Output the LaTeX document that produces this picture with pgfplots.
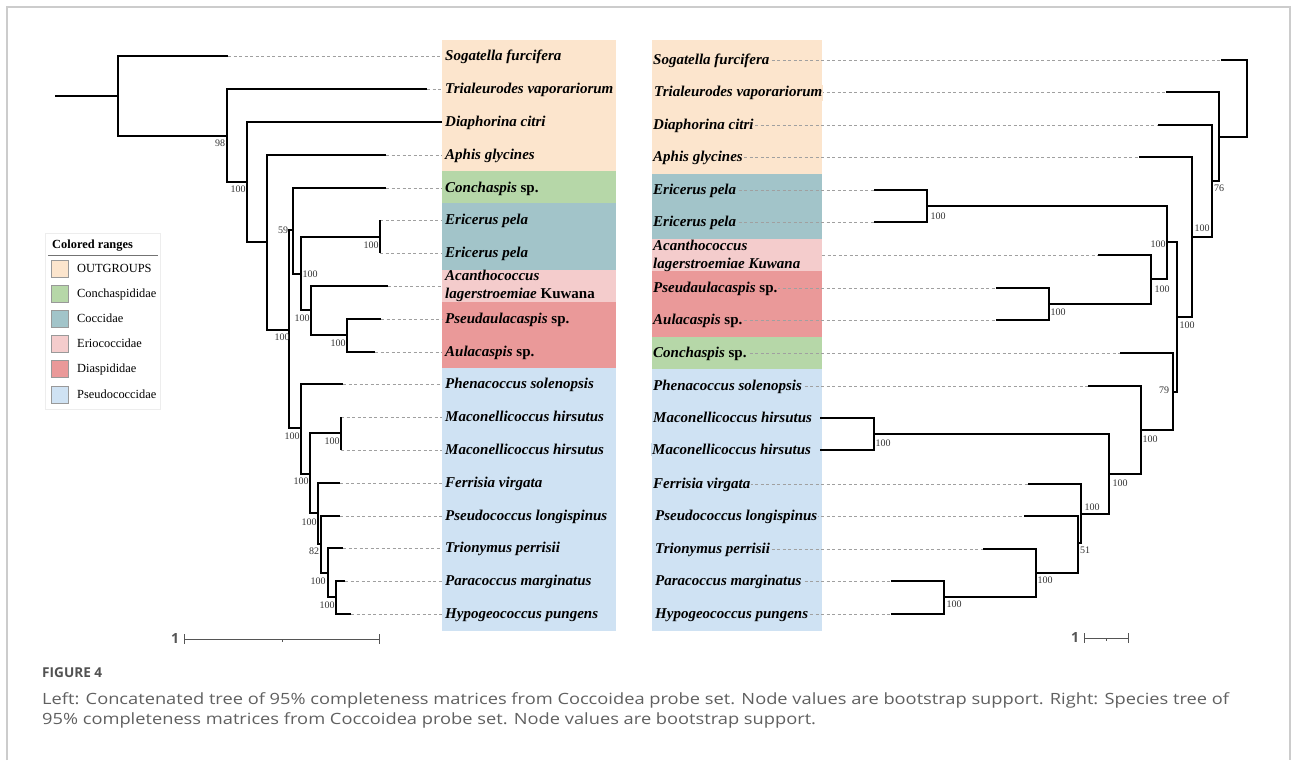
\documentclass[border=0pt]{standalone}
\usepackage{fontspec}
\setmainfont{Liberation Serif}
\newfontfamily\capfont{Open Sans}
\usepackage{graphicx}
\usepackage{pgfplots}
\pgfplotsset{compat=1.18}
\definecolor{cOut}{HTML}{FCE5CD}
\definecolor{cCon}{HTML}{B6D7A8}
\definecolor{cCoc}{HTML}{A2C4C9}
\definecolor{cEri}{HTML}{F4CCCC}
\definecolor{cDia}{HTML}{EA9999}
\definecolor{cPse}{HTML}{CFE2F3}
\definecolor{dashc}{HTML}{A0A0A0}
\definecolor{framec}{HTML}{CCCCCC}
\definecolor{capc}{HTML}{606060}
\definecolor{bsc}{HTML}{333333}
\definecolor{scalec}{HTML}{555555}
\pgfplotsset{
  br/.style={black, line width=2pt, line join=miter, no markers},
  dl/.style={dashc, line width=0.8pt, dash pattern=on 3pt off 2.5pt, no markers},
  box/.style={draw=none, no markers},
}
\tikzset{
  bs/.style={font=\fontsize{10}{12}\selectfont, text=bsc, inner sep=0pt, anchor=center},
  lab/.style={font=\fontsize{15}{18}\selectfont, anchor=base west, inner xsep=1pt, inner ysep=1pt},
  leg/.style={font=\fontsize{12.4}{14}\selectfont, anchor=base west, inner sep=0pt},
}
\newcommand{\spn}[1]{\textbf{\textit{#1}}}
\begin{document}
\begin{tikzpicture}
\begin{axis}[x=1pt, y=1pt, xmin=0, xmax=1293, ymin=0, ymax=755, y dir=reverse, hide axis, clip=false]
% bounding
\addplot[draw=none, no markers] coordinates {(0,0) (1293,755)};
% frame
\addplot[framec, line width=1.5pt, no markers] coordinates {(7,760) (7,7) (1290,7) (1290,760)};
% ---------- colored ranges left
\addplot[box, fill=cOut] coordinates {(442,40) (616,40) (616,171) (442,171)};
\addplot[box, fill=cCon] coordinates {(442,171) (616,171) (616,203) (442,203)};
\addplot[box, fill=cCoc] coordinates {(442,203) (616,203) (616,270) (442,270)};
\addplot[box, fill=cEri] coordinates {(442,270) (616,270) (616,302) (442,302)};
\addplot[box, fill=cDia] coordinates {(442,302) (616,302) (616,368) (442,368)};
\addplot[box, fill=cPse] coordinates {(442,368) (616,368) (616,631) (442,631)};
% ---------- colored ranges right
\addplot[box, fill=cOut] coordinates {(652,40) (822,40) (822,174) (652,174)};
\addplot[box, fill=cCoc] coordinates {(652,174) (822,174) (822,239) (652,239)};
\addplot[box, fill=cEri] coordinates {(652,239) (822,239) (822,271) (652,271)};
\addplot[box, fill=cDia] coordinates {(652,271) (822,271) (822,337) (652,337)};
\addplot[box, fill=cCon] coordinates {(652,337) (822,337) (822,369) (652,369)};
\addplot[box, fill=cPse] coordinates {(652,369) (822,369) (822,631) (652,631)};
% ---------- left dashed
\addplot[dl] coordinates {(228,56) (442,56)};
\addplot[dl] coordinates {(427,89) (442,89)};
\addplot[dl] coordinates {(386,155) (442,155)};
\addplot[dl] coordinates {(386,188) (442,188)};
\addplot[dl] coordinates {(380,220) (442,220)};
\addplot[dl] coordinates {(380,253) (442,253)};
\addplot[dl] coordinates {(388,286) (442,286)};
\addplot[dl] coordinates {(381,319) (442,319)};
\addplot[dl] coordinates {(375,352) (442,352)};
\addplot[dl] coordinates {(343,384) (442,384)};
\addplot[dl] coordinates {(341,417) (442,417)};
\addplot[dl] coordinates {(341,450) (442,450)};
\addplot[dl] coordinates {(340,483) (442,483)};
\addplot[dl] coordinates {(340,516) (442,516)};
\addplot[dl] coordinates {(343,548) (442,548)};
\addplot[dl] coordinates {(345,581) (442,581)};
\addplot[dl] coordinates {(351,614) (442,614)};
% ---------- right dashed
\addplot[dl] coordinates {(700,60) (1221,60)};
\addplot[dl] coordinates {(700,92) (1166,92)};
\addplot[dl] coordinates {(700,125) (1158,125)};
\addplot[dl] coordinates {(700,157) (1139,157)};
\addplot[dl] coordinates {(700,190) (874,190)};
\addplot[dl] coordinates {(700,222) (874,222)};
\addplot[dl] coordinates {(822,255) (1098,255)};
\addplot[dl] coordinates {(700,288) (996,288)};
\addplot[dl] coordinates {(700,320) (996,320)};
\addplot[dl] coordinates {(700,353) (1120,353)};
\addplot[dl] coordinates {(700,386) (1088,386)};
\addplot[dl] coordinates {(700,484) (1028,484)};
\addplot[dl] coordinates {(700,516) (1024,516)};
\addplot[dl] coordinates {(700,549) (983,549)};
\addplot[dl] coordinates {(700,581) (891,581)};
\addplot[dl] coordinates {(700,614) (891,614)};
% ---------- left tree
\addplot[br] coordinates {(55,96) (118,96)};
\addplot[br] coordinates {(228,56) (118,56) (118,136) (227,136)};
\addplot[br] coordinates {(427,89) (227,89) (227,182) (247,182)};
\addplot[br] coordinates {(442,122) (247,122) (247,242) (267,242)};
\addplot[br] coordinates {(386,155) (267,155) (267,330) (289,330)};
\addplot[br] coordinates {(293,230) (289,230) (289,428) (301,428)};
\addplot[br] coordinates {(386,188) (293,188) (293,274) (301,274)};
\addplot[br] coordinates {(380,237) (301,237) (301,310) (311,310)};
\addplot[br] coordinates {(380,220) (380,253)};
\addplot[br] coordinates {(388,286) (311,286) (311,335) (347,335)};
\addplot[br] coordinates {(381,319) (347,319) (347,352) (375,352)};
\addplot[br] coordinates {(343,384) (301,384) (301,474) (310,474)};
\addplot[br] coordinates {(341,433) (310,433) (310,513) (318,513)};
\addplot[br] coordinates {(341,417) (341,450)};
\addplot[br] coordinates {(340,483) (318,483) (318,544) (321,544)};
\addplot[br] coordinates {(340,516) (321,516) (321,573) (328,573)};
\addplot[br] coordinates {(343,548) (328,548) (328,597) (336,597)};
\addplot[br] coordinates {(345,581) (336,581) (336,614) (351,614)};
% ---------- right tree
\addplot[br] coordinates {(1221,60) (1247,60) (1247,137) (1219,137)};
\addplot[br] coordinates {(1166,92) (1219,92) (1219,181) (1212,181)};
\addplot[br] coordinates {(1158,125) (1212,125) (1212,237) (1192,237)};
\addplot[br] coordinates {(1139,157) (1192,157) (1192,317) (1177,317)};
\addplot[br] coordinates {(1167,242) (1177,242) (1177,392) (1173,392)};
\addplot[br] coordinates {(927,206) (1167,206) (1167,279) (1151,279)};
\addplot[br] coordinates {(874,190) (927,190) (927,222) (874,222)};
\addplot[br] coordinates {(1098,255) (1151,255) (1151,304) (1049,304)};
\addplot[br] coordinates {(996,288) (1049,288) (1049,320) (996,320)};
\addplot[br] coordinates {(1120,353) (1173,353) (1173,430) (1141,430)};
\addplot[br] coordinates {(1088,386) (1141,386) (1141,474) (1109,474)};
\addplot[br] coordinates {(874,434) (1109,434) (1109,514) (1081,514)};
\addplot[br] coordinates {(820,418) (874,418) (874,450) (820,450)};
\addplot[br] coordinates {(1028,484) (1081,484) (1081,543) (1078,543)};
\addplot[br] coordinates {(1024,516) (1078,516) (1078,573) (1036,573)};
\addplot[br] coordinates {(983,549) (1036,549) (1036,597) (944,597)};
\addplot[br] coordinates {(891,581) (944,581) (944,614) (891,614)};
% ---------- scale bars
\addplot[scalec, line width=1pt, no markers] coordinates {(184,639) (379,639)};
\addplot[scalec, line width=1pt, no markers] coordinates {(184,634) (184,644)};
\addplot[scalec, line width=1pt, no markers] coordinates {(379,634) (379,644)};
\addplot[scalec, line width=0.8pt, no markers] coordinates {(282,639) (282,642)};
\addplot[scalec, line width=1pt, no markers] coordinates {(1084,638) (1128,638)};
\addplot[scalec, line width=1pt, no markers] coordinates {(1084,633) (1084,643)};
\addplot[scalec, line width=1pt, no markers] coordinates {(1128,633) (1128,643)};
\addplot[scalec, line width=0.8pt, no markers] coordinates {(1106,638) (1106,641)};
% ---------- legend
\addplot[draw=black!7, fill=white, no markers, line width=0.8pt] coordinates {(45,233) (160,233) (160,409) (45,409) (45,233)};
\addplot[black!55, line width=0.8pt, no markers] coordinates {(48,255) (158,255)};
\addplot[draw=black!40, fill=cOut, no markers, line width=0.6pt] coordinates {(51,260) (68,260) (68,277) (51,277) (51,260)};
\addplot[draw=black!40, fill=cCon, no markers, line width=0.6pt] coordinates {(51,285) (68,285) (68,302) (51,302) (51,285)};
\addplot[draw=black!40, fill=cCoc, no markers, line width=0.6pt] coordinates {(51,310) (68,310) (68,327) (51,327) (51,310)};
\addplot[draw=black!40, fill=cEri, no markers, line width=0.6pt] coordinates {(51,335) (68,335) (68,352) (51,352) (51,335)};
\addplot[draw=black!40, fill=cDia, no markers, line width=0.6pt] coordinates {(51,360) (68,360) (68,377) (51,377) (51,360)};
\addplot[draw=black!40, fill=cPse, no markers, line width=0.6pt] coordinates {(51,386) (68,386) (68,403) (51,403) (51,386)};
\node[leg, font=\bfseries\fontsize{12.4}{14}\selectfont] at (axis cs:52,248) {Colored ranges};
\node[leg] at (axis cs:77,272) {OUTGROUPS};
\node[leg] at (axis cs:77,297) {Conchaspididae};
\node[leg] at (axis cs:77,322) {Coccidae};
\node[leg] at (axis cs:77,347) {Eriococcidae};
\node[leg] at (axis cs:77,372) {Diaspididae};
\node[leg] at (axis cs:77,398) {Pseudococcidae};
% ---------- left labels
\node[lab] at (axis cs:444,60.5) {\spn{Sogatella furcifera}};
\node[lab] at (axis cs:444,93.5) {\spn{Trialeurodes vaporariorum}};
\node[lab] at (axis cs:444,126.5) {\spn{Diaphorina citri}};
\node[lab] at (axis cs:444,159.5) {\spn{Aphis glycines}};
\node[lab] at (axis cs:444,192.5) {\spn{Conchaspis} \textbf{sp.}};
\node[lab] at (axis cs:444,224.5) {\spn{Ericerus pela}};
\node[lab] at (axis cs:444,257.5) {\spn{Ericerus pela}};
\node[lab] at (axis cs:444,280.5) {\spn{Acanthococcus}};
\node[lab] at (axis cs:444,298.5) {\spn{lagerstroemiae} \textbf{Kuwana}};
\node[lab] at (axis cs:444,323.5) {\spn{Pseudaulacaspis} \textbf{sp.}};
\node[lab] at (axis cs:444,356.5) {\spn{Aulacaspis} \textbf{sp.}};
\node[lab] at (axis cs:444,388.5) {\spn{Phenacoccus solenopsis}};
\node[lab] at (axis cs:444,421.5) {\spn{Maconellicoccus hirsutus}};
\node[lab] at (axis cs:444,454.5) {\spn{Maconellicoccus hirsutus}};
\node[lab] at (axis cs:444,487.5) {\spn{Ferrisia virgata}};
\node[lab] at (axis cs:444,520.5) {\spn{Pseudococcus longispinus}};
\node[lab] at (axis cs:444,552.5) {\spn{Trionymus perrisii}};
\node[lab] at (axis cs:444,585.5) {\spn{Paracoccus marginatus}};
\node[lab] at (axis cs:444,618.5) {\spn{Hypogeococcus pungens}};
% ---------- right labels
\node[lab, fill=cOut] at (axis cs:652,64.5) {\spn{Sogatella furcifera}};
\node[lab, fill=cOut] at (axis cs:653,96.5) {\spn{Trialeurodes vaporariorum}};
\node[lab, fill=cOut] at (axis cs:652,129.5) {\spn{Diaphorina citri}};
\node[lab, fill=cOut] at (axis cs:652,161.5) {\spn{Aphis glycines}};
\node[lab, fill=cCoc] at (axis cs:652,194.5) {\spn{Ericerus pela}};
\node[lab, fill=cCoc] at (axis cs:652,226.5) {\spn{Ericerus pela}};
\node[lab, inner sep=0pt] at (axis cs:653,250.5) {\spn{Acanthococcus}};
\node[lab, inner sep=0pt] at (axis cs:653,268.5) {\spn{lagerstroemiae Kuwana}};
\node[lab, fill=cDia] at (axis cs:652,292.5) {\spn{Pseudaulacaspis} \textbf{sp.}};
\node[lab, fill=cDia] at (axis cs:652,324.5) {\spn{Aulacaspis} \textbf{sp.}};
\node[lab, fill=cCon] at (axis cs:652,357.5) {\spn{Conchaspis} \textbf{sp.}};
\node[lab, fill=cPse] at (axis cs:652,390.5) {\spn{Phenacoccus solenopsis}};
\node[lab, fill=cPse] at (axis cs:652,422.5) {\spn{Maconellicoccus hirsutus}};
\node[lab, fill=cPse] at (axis cs:651,454.5) {\spn{Maconellicoccus hirsutus}};
\node[lab, fill=cPse] at (axis cs:652,488.5) {\spn{Ferrisia virgata}};
\node[lab, fill=cPse] at (axis cs:654,520.5) {\spn{Pseudococcus longispinus}};
\node[lab, fill=cPse] at (axis cs:654,553.5) {\spn{Trionymus perrisii}};
\node[lab, fill=cPse] at (axis cs:654,585.5) {\spn{Paracoccus marginatus}};
\node[lab, fill=cPse] at (axis cs:654,618.5) {\spn{Hypogeococcus pungens}};
% ---------- bootstrap left
\node[bs] at (axis cs:220,143) {98};
\node[bs] at (axis cs:238,189) {100};
\node[bs] at (axis cs:283,230) {59};
\node[bs] at (axis cs:371,245) {100};
\node[bs] at (axis cs:310,274) {100};
\node[bs] at (axis cs:302,318) {100};
\node[bs] at (axis cs:338,343) {100};
\node[bs] at (axis cs:282,337) {100};
\node[bs] at (axis cs:292,436) {100};
\node[bs] at (axis cs:301,481) {100};
\node[bs] at (axis cs:332,441) {100};
\node[bs] at (axis cs:309,522) {100};
\node[bs] at (axis cs:314,551) {82};
\node[bs] at (axis cs:318,581) {100};
\node[bs] at (axis cs:327,605) {100};
% ---------- bootstrap right
\node[bs] at (axis cs:1219,188) {76};
\node[bs] at (axis cs:1202,228) {100};
\node[bs] at (axis cs:1187,325) {100};
\node[bs] at (axis cs:1164,390) {79};
\node[bs] at (axis cs:1158,244) {100};
\node[bs] at (axis cs:938,216) {100};
\node[bs] at (axis cs:1162,289) {100};
\node[bs] at (axis cs:1058,312) {100};
\node[bs] at (axis cs:1150,439) {100};
\node[bs] at (axis cs:1120,483) {100};
\node[bs] at (axis cs:883,443) {100};
\node[bs] at (axis cs:1092,507) {100};
\node[bs] at (axis cs:1085,550) {51};
\node[bs] at (axis cs:1045,580) {100};
\node[bs] at (axis cs:954,604) {100};
% ---------- scale labels
\node[font=\capfont\bfseries\fontsize{14}{16}\selectfont, text=scalec, anchor=center, inner sep=0pt] at (axis cs:175,638) {1};
\node[font=\capfont\bfseries\fontsize{14}{16}\selectfont, text=scalec, anchor=center, inner sep=0pt] at (axis cs:1075,637) {1};
% ---------- caption
\node[font=\capfont\bfseries\fontsize{13.6}{16}\selectfont, text=capc!85!black, anchor=base west, inner sep=0pt] at (axis cs:42,677) {FIGURE 4};
\node[font=\capfont\fontsize{15.5}{20}\selectfont, text=capc, anchor=base west, inner sep=0pt] at (axis cs:42,704) {\scalebox{1.178}[1]{Left: Concatenated tree of 95\% completeness matrices from Coccoidea probe set. Node values are bootstrap support. Right: Species tree of}};
\node[font=\capfont\fontsize{15.5}{20}\selectfont, text=capc, anchor=base west, inner sep=0pt] at (axis cs:42,724) {\scalebox{1.178}[1]{95\% completeness matrices from Coccoidea probe set. Node values are bootstrap support.}};
\end{axis}
\end{tikzpicture}
\end{document}
